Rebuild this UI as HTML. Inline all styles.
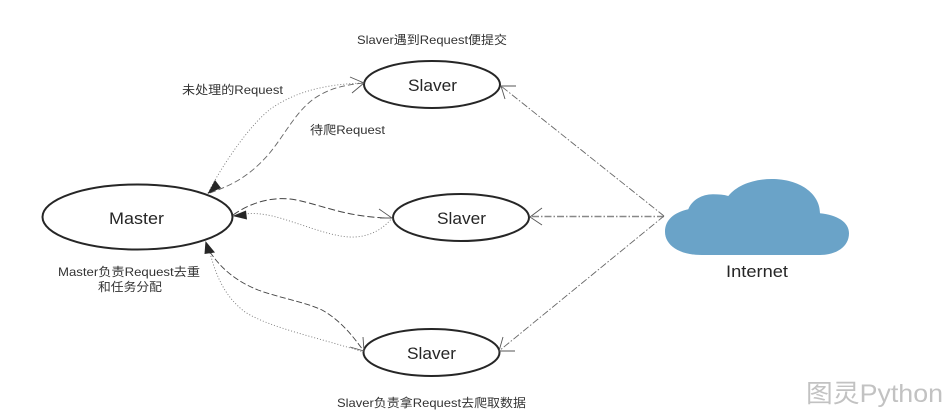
<!DOCTYPE html>
<html>
<head>
<meta charset="utf-8">
<style>
html,body{margin:0;padding:0;background:#fff;width:951px;height:418px;overflow:hidden}
svg{display:block}
text{font-family:"Liberation Sans","WenQuanYi Zen Hei","Noto Sans CJK SC",sans-serif;fill:#333}
.l{font-size:12px}
.n{font-size:17px;fill:#262626}
</style>
</head>
<body>
<svg width="951" height="418" viewBox="0 0 951 418" xmlns="http://www.w3.org/2000/svg">
<rect width="951" height="418" fill="#fff"/>

<!-- cloud -->
<path d="M701.7 255 C679 255 665 245 665 231.7 C665 220 674 212.5 688.3 209.3 C692 200 702 194.3 713 194.3 C719 194.3 724 194.8 728.3 196 C737 185 754 179 771.7 179 C799 179 820 193 820 213.3 C837 215 849 222 849 233.3 C849 247 836 255 820 255 Z" fill="#6aa3c8"/>

<!-- ellipses -->
<g fill="#fff" stroke="#262626" stroke-width="2">
<ellipse cx="137.5" cy="217" rx="95" ry="32.5"/>
<ellipse cx="432" cy="84.5" rx="68" ry="23.5"/>
<ellipse cx="461" cy="217.5" rx="68" ry="23.5"/>
<ellipse cx="431.5" cy="352.5" rx="68" ry="23.5"/>
</g>

<!-- curved connectors -->
<g fill="none" stroke="#666" stroke-width="0.9">
<path d="M208 193 C225 160 255 118 275 106 C300 90 330 84 363 83" stroke="#777" stroke-dasharray="1 2"/>
<path d="M210 193 C235 184 250 175 268 155 C285 135 295 112 315 98 C330 88 345 85 363 83" stroke-dasharray="6 3"/>
<path d="M233 215 C250 203 270 197 290 199 C315 202 345 218 392 218" stroke="#444" stroke-width="1" stroke-dasharray="7 3"/>
<path d="M233 216 C250 212 262 213 280 218 C310 227 335 238 355 237 C372 236 384 228 392 218" stroke="#777" stroke-dasharray="1 2"/>
<path d="M210 252 C222 270 238 282 258 290 C280 298 305 302 322 310 C340 320 352 335 363 350" stroke="#444" stroke-dasharray="6 2.5"/>
<path d="M210 253 C216 275 224 296 245 312 C270 328 320 338 363 352" stroke="#777" stroke-dasharray="1 2"/>
</g>

<!-- dash-dot lines -->
<g fill="none" stroke="#666" stroke-width="0.9" stroke-dasharray="7 2 1.5 2">
<path d="M664 216 L501 86"/>
<path d="M664 216.5 L530 216.5" stroke="#888" stroke-width="1.6"/>
<path d="M664 216 L499 351"/>
</g>

<!-- filled arrowheads -->
<g fill="#262626" stroke="none">
<path d="M207.500 194 L215 180 L221 188 Z"/>
<path d="M232.500 216 L246 210.500 L247 219.500 Z"/>
<path d="M205.500 241 L204.500 254 L215 252.500 Z"/>
</g>

<!-- open arrowheads -->
<g fill="none" stroke="#555" stroke-width="0.9">
<path d="M350 77 L364 83 L352 93"/>
<path d="M379 209 L392 218 L380 218"/>
<path d="M363 337 L364 351 L350 347"/>
<path d="M516 86 L501 86 L505 99"/>
<path d="M542 208 L530 217 L542 225"/>
<path d="M515 351 L499 351 L503 337"/>
</g>

<!-- labels -->
<text class="n" x="408" y="91" textLength="49" lengthAdjust="spacingAndGlyphs">Slaver</text>
<text class="n" x="437" y="224" textLength="49" lengthAdjust="spacingAndGlyphs">Slaver</text>
<text class="n" x="407" y="359" textLength="49" lengthAdjust="spacingAndGlyphs">Slaver</text>
<text class="n" x="109" y="224" textLength="55" lengthAdjust="spacingAndGlyphs">Master</text>
<text class="n" x="726" y="277" textLength="62" lengthAdjust="spacingAndGlyphs">Internet</text>

<text class="l" x="357" y="44" textLength="150" lengthAdjust="spacingAndGlyphs">Slaver遇到Request便提交</text>
<text class="l" x="182" y="94" textLength="101" lengthAdjust="spacingAndGlyphs">未处理的Request</text>
<text class="l" x="310" y="134" textLength="75" lengthAdjust="spacingAndGlyphs">待爬Request</text>
<text class="l" x="58" y="276" textLength="142" lengthAdjust="spacingAndGlyphs">Master负责Request去重</text>
<text class="l" x="98" y="291" textLength="64" lengthAdjust="spacingAndGlyphs">和任务分配</text>
<text class="l" x="337" y="407" textLength="189" lengthAdjust="spacingAndGlyphs">Slaver负责拿Request去爬取数据</text>

<text x="806" y="402" font-size="25" style="fill:#c2c2c2" textLength="137" lengthAdjust="spacingAndGlyphs">图灵Python</text>
</svg>
</body>
</html>
